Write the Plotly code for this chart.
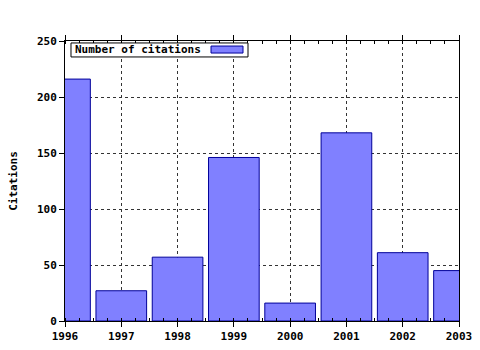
import plotly.graph_objects as go

years = [1996, 1997, 1998, 1999, 2000, 2001, 2002, 2003]
citations = [216, 27, 57, 146, 16, 168, 61, 45]
series_name = "Number of citations"
y_title = "Citations"

FONT = dict(family="DejaVu Sans Mono", size=11, color="black", weight="bold")

fig = go.Figure()
fig.add_trace(go.Bar(
    x=years, y=citations, name=series_name, width=0.9,
    marker=dict(color="#8080ff", line=dict(color="#000099", width=1)),
    showlegend=False,
))

fig.update_layout(
    width=480, height=350,
    margin=dict(l=65, r=21, t=41, b=29, autoexpand=False),
    paper_bgcolor="white", plot_bgcolor="white",
    font=FONT,
    xaxis=dict(
        range=[1996, 2003], tickmode="linear", tick0=1996, dtick=1,
        showline=True, linecolor="black", linewidth=1, mirror="ticks",
        ticks="outside", ticklen=5, tickcolor="black",
        showgrid=True, gridcolor="#333333", griddash="dot", gridwidth=1,
        minor=dict(dtick=0.25, ticks="inside", ticklen=3, tickcolor="black", showgrid=False),
        zeroline=False, tickfont=FONT, automargin=False,
    ),
    yaxis=dict(
        range=[0, 250], tickmode="linear", tick0=0, dtick=50,
        showline=True, linecolor="black", linewidth=1, mirror=True,
        ticks="outside", ticklen=5, tickcolor="black",
        showgrid=True, gridcolor="#333333", griddash="dot", gridwidth=1,
        zeroline=False, tickfont=FONT, automargin=False,
        title=dict(text=y_title, font=FONT, standoff=17),
    ),
)

# legend box drawn manually (text then swatch, as in reference)
fig.add_shape(type="rect", xref="paper", yref="paper",
              x0=0.0152, x1=0.4645, y0=0.943, y1=0.993,
              line=dict(color="black", width=1), fillcolor="white", layer="above")
fig.add_shape(type="rect", xref="paper", yref="paper",
              x0=0.3706, x1=0.4518, y0=0.957, y1=0.982,
              line=dict(color="#000099", width=1), fillcolor="#8080ff", layer="above")
fig.add_annotation(text=series_name, xref="paper", yref="paper",
                   x=0.0203, y=0.968, xanchor="left", yanchor="middle",
                   showarrow=False, font=FONT)

fig.write_html("out.html")
